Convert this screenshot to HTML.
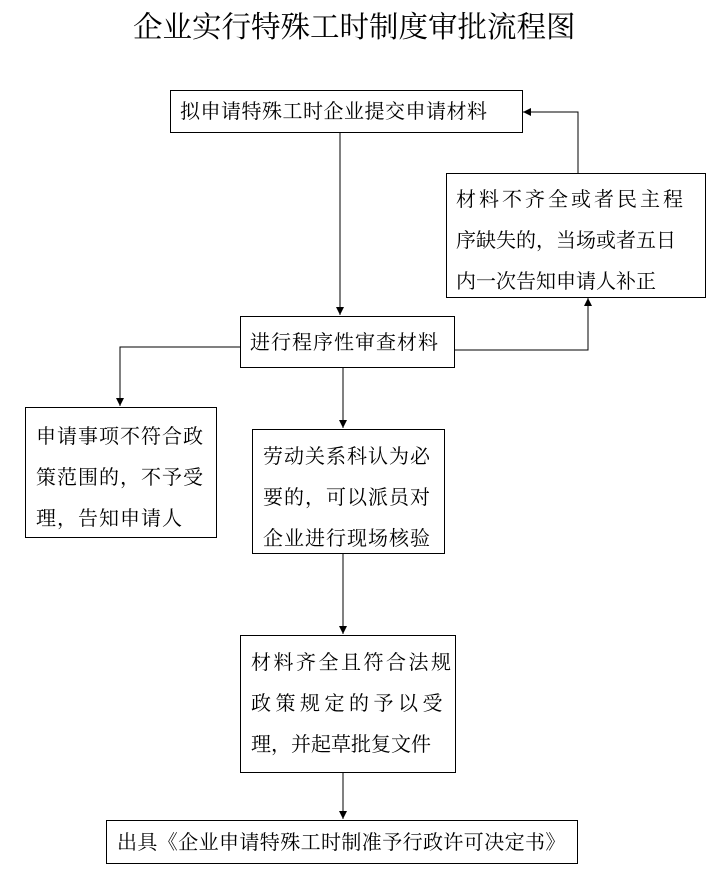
<!DOCTYPE html>
<html><head><meta charset="utf-8"><style>
body{margin:0;background:#fff;width:720px;height:883px;position:relative;overflow:hidden;font-family:"Liberation Serif","Noto Serif CJK SC","Noto Sans CJK SC",serif;color:#000}
.b{position:absolute;border:1px solid #000;box-sizing:border-box;font-size:20px;line-height:41px;white-space:nowrap}
.t{position:absolute;left:133px;top:4px;font-size:29.5px;white-space:nowrap}
svg{position:absolute;left:0;top:0}
</style></head><body>
<div class="t">企业实行特殊工时制度审批流程图</div>
<svg width="720" height="883">
<defs><marker id="a" markerWidth="10" markerHeight="10" refX="8" refY="4" orient="auto" markerUnits="userSpaceOnUse"><path d="M0,0L8,4L0,8z" fill="#000"/></marker></defs>
<g stroke="#000" stroke-width="1" fill="none">
<line x1="340" y1="132" x2="340" y2="315" marker-end="url(#a)"/>
<polyline points="578,173 578,112 523,112" marker-end="url(#a)"/>
<polyline points="455,350 588,350 588,298" marker-end="url(#a)"/>
<polyline points="240,347 120,347 120,406" marker-end="url(#a)"/>
<line x1="343" y1="367" x2="343" y2="428" marker-end="url(#a)"/>
<line x1="343" y1="553" x2="343" y2="634" marker-end="url(#a)"/>
<line x1="343" y1="772" x2="343" y2="819" marker-end="url(#a)"/>
</g></svg>
<div class="b" style="left:170px;top:90px;width:353px;height:43px;padding-left:9px;line-height:43px;letter-spacing:0.5px">拟申请特殊工时企业提交申请材料</div>
<div class="b" style="left:446px;top:173px;width:260px;height:125px;padding:6px 0 0 9px"><span style="letter-spacing:3px">材料不齐全或者民主程</span><br>序缺失的，当场或者五日<br>内一次告知申请人补正</div>
<div class="b" style="left:240px;top:316px;width:215px;height:52px;padding-left:9px;line-height:52px;letter-spacing:1px">进行程序性审查材料</div>
<div class="b" style="left:25px;top:407px;width:192px;height:131px;padding:9px 0 0 10px;letter-spacing:1px">申请事项不符合政<br>策范围的，不予受<br>理，告知申请人</div>
<div class="b" style="left:252px;top:429px;width:193px;height:125px;padding:7px 0 0 10px;letter-spacing:1px">劳动关系科认为必<br>要的，可以派员对<br>企业进行现场核验</div>
<div class="b" style="left:240px;top:635px;width:216px;height:138px;padding:7px 0 0 10px"><span style="letter-spacing:2.5px">材料齐全且符合法规</span><br><span style="letter-spacing:4.5px">政策规定的予以受</span><br>理，并起草批复文件</div>
<div class="b" style="left:106px;top:820px;width:472px;height:44px;padding-left:10px;line-height:44px;letter-spacing:0.4px">出具《企业申请特殊工时制准予行政许可决定书》</div>
</body></html>
